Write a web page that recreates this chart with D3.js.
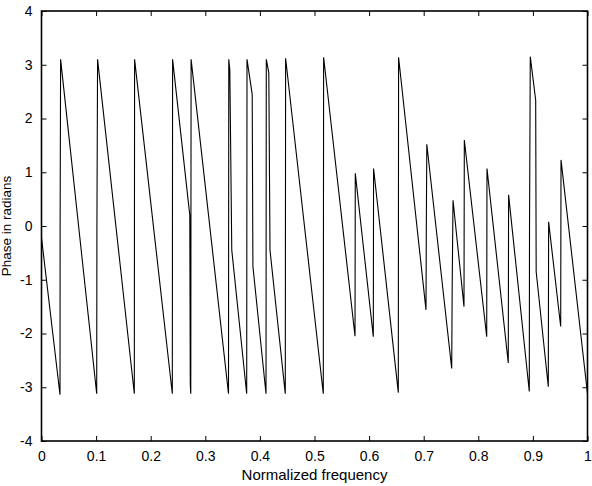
<!DOCTYPE html>
<meta charset="utf-8">
<body style="margin:0;background:#fff">
<script src="https://cdn.jsdelivr.net/npm/d3@7"></script>
<script>

// Phase response (normalized frequency, radians)
var freq = [0, 0.0339, 0.0341, 0.0350, 0.1011, 0.1015, 0.1027, 0.1700, 0.1705, 0.2396,
            0.2401, 0.2716, 0.2725, 0.2734, 0.2740, 0.3425, 0.3430, 0.3449, 0.3485, 0.3758,
            0.3764, 0.3859, 0.3872, 0.4112, 0.4117, 0.4163, 0.4185, 0.4465, 0.4471, 0.5161,
            0.5167, 0.5742, 0.5747, 0.6077, 0.6082, 0.6535, 0.6540, 0.7042, 0.7048, 0.7057,
            0.7513, 0.7522, 0.7537, 0.7738, 0.7744, 0.8154, 0.8159, 0.8549, 0.8555, 0.8934,
            0.8938, 0.8952, 0.9051, 0.9060, 0.9282, 0.9288, 0.9509, 0.9515, 1.0];
var phase = [-0.22, -3.14, 0.0, 3.1, -3.12, 0.0, 3.1, -3.12, 3.1, -3.12,
             3.1, 0.2, -2.95, -3.12, 3.1, -3.12, 3.1, 2.9, -0.45, -3.12,
             3.1, 2.45, -0.75, -3.12, 3.1, 2.85, -0.45, -3.12, 3.12, -3.12,
             3.14, -2.05, 0.98, -2.06, 1.07, -3.1, 3.14, -1.56, 0.0, 1.52,
             -2.65, -1.1, 0.48, -1.5, 1.6, -2.06, 1.07, -2.55, 0.58, -3.08,
             0.0, 3.15, 2.34, -0.85, -2.99, 0.08, -1.87, 1.23, -3.12];

var xTicks = [0, 0.1, 0.2, 0.3, 0.4, 0.5, 0.6, 0.7, 0.8, 0.9, 1];
var yTicks = [-4, -3, -2, -1, 0, 1, 2, 3, 4];

var margin = {top: 11, right: 4.5, bottom: 45, left: 41.5},
    width = 592 - margin.left - margin.right,
    height = 486 - margin.top - margin.bottom;

var svg = d3.select("body").append("svg")
    .attr("width", 592)
    .attr("height", 486)
    .style("display", "block");

var g = svg.append("g")
    .attr("transform", "translate(" + margin.left + "," + margin.top + ")");

var x = d3.scaleLinear().domain([0, 1]).range([0, width]),
    y = d3.scaleLinear().domain([-4, 4]).range([height, 0]);

var font = "'Liberation Sans', Arial, sans-serif";
var fmt = function(d) { return d === 0 ? "0" : String(d); };

// axes with inward ticks on all four sides
function styleAxis(sel) {
  sel.select(".domain").remove();
  sel.selectAll(".tick line").attr("stroke", "#000").attr("stroke-width", 1);
  sel.selectAll("text").style("font-family", font).style("font-size", "14px").attr("fill", "#000");
}

g.append("g")
    .attr("transform", "translate(0," + height + ")")
    .call(d3.axisBottom(x).tickValues(xTicks).tickFormat(fmt).tickSizeInner(-5).tickSizeOuter(0).tickPadding(10))
    .call(styleAxis);

g.append("g")
    .call(d3.axisTop(x).tickValues(xTicks).tickFormat("").tickSizeInner(-5).tickSizeOuter(0))
    .call(styleAxis);

g.append("g")
    .call(d3.axisLeft(y).tickValues(yTicks).tickFormat(fmt).tickSizeInner(-5).tickSizeOuter(0).tickPadding(9))
    .call(styleAxis);

g.append("g")
    .attr("transform", "translate(" + width + ",0)")
    .call(d3.axisRight(y).tickValues(yTicks).tickFormat("").tickSizeInner(-5).tickSizeOuter(0))
    .call(styleAxis);

// phase curve
var line = d3.line()
    .x(function(d, i) { return x(freq[i]); })
    .y(function(d) { return y(d); });

g.append("path")
    .datum(phase)
    .attr("d", line)
    .attr("fill", "none")
    .attr("stroke", "#000")
    .attr("stroke-width", 1.1);

// box
g.append("rect")
    .attr("width", width)
    .attr("height", height)
    .attr("fill", "none")
    .attr("stroke", "#000")
    .attr("stroke-width", 1.6);

svg.append("text")
    .attr("x", margin.left + width / 2)
    .attr("y", 480)
    .attr("text-anchor", "middle")
    .style("font-family", font)
    .style("font-size", "15px")
    .text("Normalized frequency");

svg.append("text")
    .attr("transform", "translate(11," + (margin.top + height / 2) + ") rotate(-90)")
    .attr("text-anchor", "middle")
    .style("font-family", font)
    .style("font-size", "13.5px")
    .text("Phase in radians");

</script>
</body>
